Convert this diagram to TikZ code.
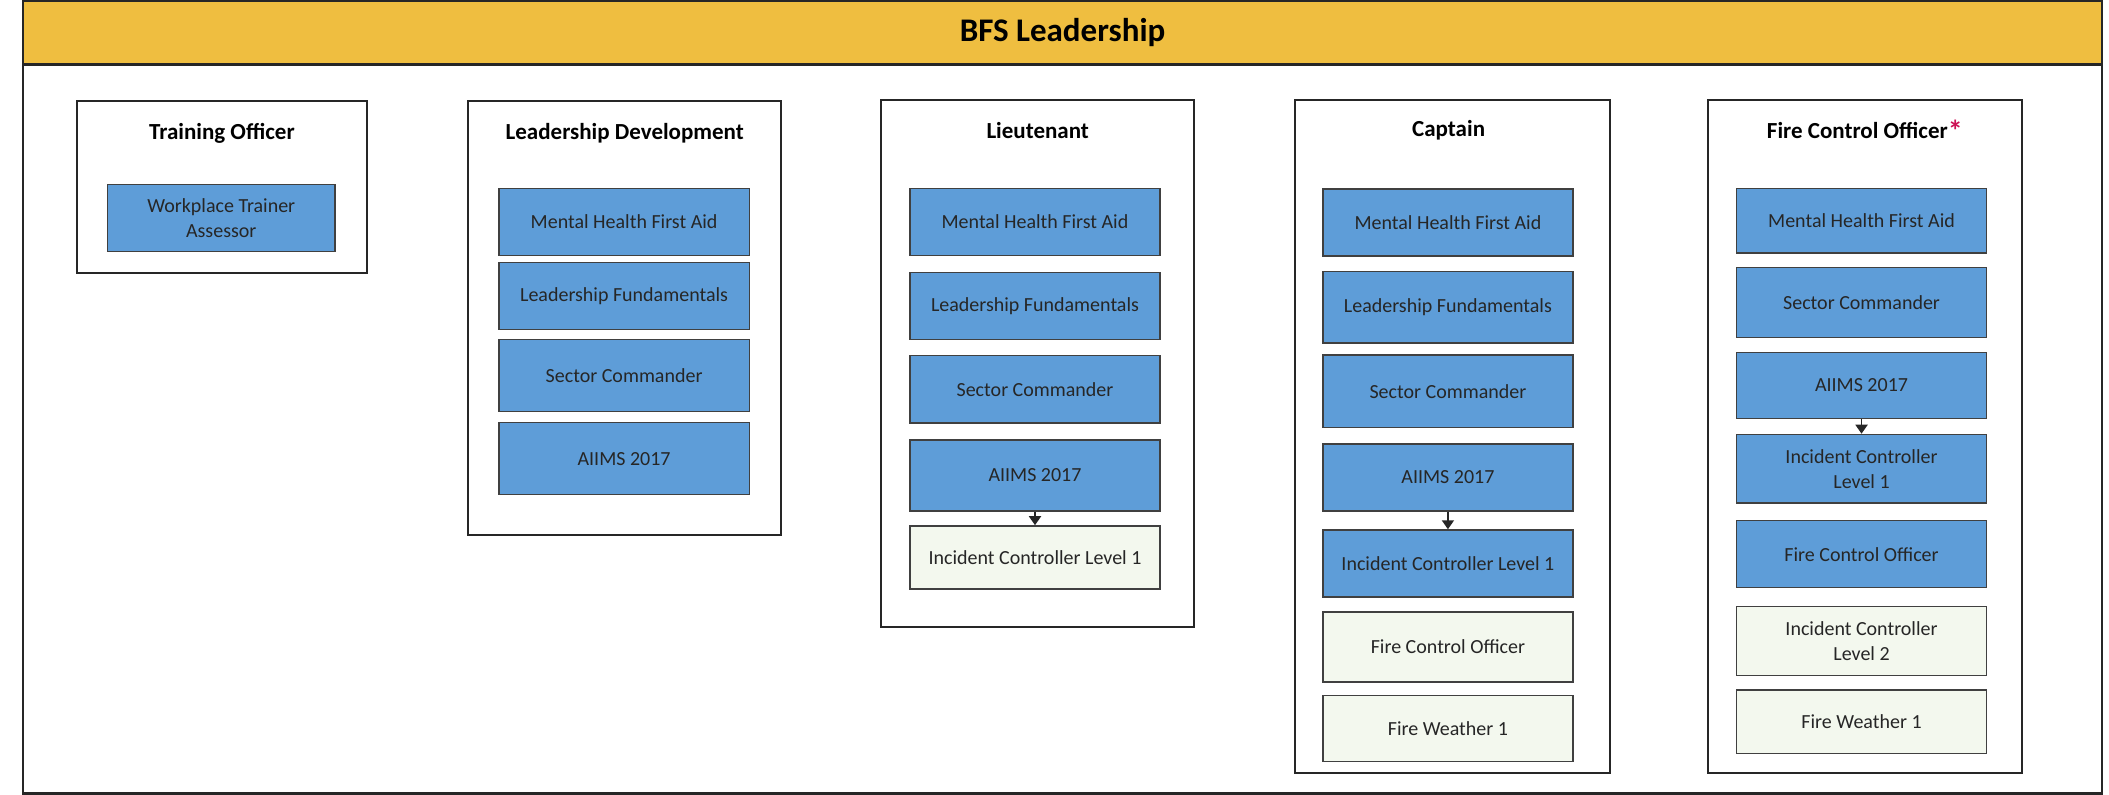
\documentclass[tikz,border=0pt]{standalone}
\usepackage{fontspec}
\setmainfont{Carlito}
\usepackage{tikz}
\usetikzlibrary{arrows.meta}
\usepackage{xcolor}
\definecolor{ColA}{RGB}{239,190,64}
\definecolor{ColB}{RGB}{94,157,216}
\definecolor{ColC}{RGB}{243,248,238}
\definecolor{ColD}{RGB}{204,16,84}
\tikzstyle{Banner}=[draw=black!85,fill=ColA,line width=1.1pt,inner sep=0pt,minimum width=1039.7pt,
minimum height=31.6pt,font=\bfseries\fontsize{16.5}{19}\selectfont]
\tikzstyle{GroupBox}=[draw=black!85,line width=1pt,inner sep=0pt,minimum width=156.7pt]
\tikzstyle{GroupTitle}=[inner sep=0pt,font=\bfseries\fontsize{11.5}{13}\selectfont]
\tikzstyle{Course}=[draw=black!75,line width=.7pt,fill=ColB,minimum width=125.1pt,minimum height=33.6pt,
inner sep=1pt,align=center,text=black!85,font=\fontsize{10}{12.5}\selectfont]
\tikzstyle{CourseNext}=[Course,fill=ColC]
\tikzstyle{EdgeCourse}=[-{Triangle[width=6pt,length=4.5pt]},line width=.9pt,black!85]

\begin{document}
\begin{tikzpicture}[x=0.6725pt,y=-0.6725pt]
        \useasboundingbox(0,0)rectangle(1568,591);
        \draw[line width=1.1pt,black!85](17,1)rectangle(1563,590);
        \node[Banner](bfs)at(790,24.5){BFS Leadership};
        \node[GroupBox,minimum width=145.3pt,minimum height=86.1pt](to)at(165,139){};
        \node[GroupTitle](toT)at(165,99){Training Officer};
        \node[Course,minimum width=113.7pt](toA)at(164.5,162){Workplace Trainer\\Assessor};
        \node[GroupBox,minimum height=217.2pt](ld)at(464.5,236.5){};
        \node[GroupTitle](ldT)at(464.5,99){Leadership Development};
        \node[Course](ldA)at(464,165){Mental Health First Aid};
        \node[Course](ldB)at(464,220){Leadership Fundamentals};
        \node[Course,minimum height=36pt](ldC)at(464,279){Sector Commander};
        \node[Course,minimum height=36pt](ldD)at(464,341){AIIMS 2017};
        \node[GroupBox,minimum height=263.6pt](lt)at(771.5,270){};
        \node[GroupTitle](ltT)at(771.5,97){Lieutenant};
        \node[Course](ltA)at(769.5,165){Mental Health First Aid};
        \node[Course](ltB)at(769.5,227.5){Leadership Fundamentals};
        \node[Course](ltC)at(769.5,289.5){Sector Commander};
        \node[Course,minimum height=35.6pt](ltD)at(769.5,353.5){AIIMS 2017};
        \node[CourseNext,minimum height=31.6pt](ltE)at(769.5,414.5){Incident Controller Level 1};
        \draw[EdgeCourse](ltD)--(ltE);
        \node[GroupBox,minimum width=157.4pt,minimum height=336.9pt](cp)at(1080,324.5){};
        \node[GroupTitle](cpT)at(1077,97){Captain};
        \node[Course](cpA)at(1076.5,165.5){Mental Health First Aid};
        \node[Course,minimum height=35.6pt](cpB)at(1076.5,228.5){Leadership Fundamentals};
        \node[Course,minimum height=36.3pt](cpC)at(1076.5,291){Sector Commander};
        \node[Course](cpD)at(1076.5,355){AIIMS 2017};
        \node[Course](cpE)at(1076.5,419){Incident Controller Level 1};
        \node[CourseNext,minimum height=35pt](cpF)at(1076.5,481){Fire Control Officer};
        \node[CourseNext,minimum height=33pt](cpG)at(1076.5,541.5){Fire Weather 1};
        \draw[EdgeCourse](cpD)--(cpE);
        \node[GroupBox,minimum height=336.9pt](fc)at(1386.5,324.5){};
        \node[GroupTitle](fcT)at(1386.5,97){Fire Control Officer\textcolor{ColD}{\raisebox{-.2ex}{\fontsize{15}{15}\selectfont*}}};
        \node[Course,minimum height=32.3pt](fcA)at(1384,164){Mental Health First Aid};
        \node[Course,minimum height=35pt](fcB)at(1384,225){Sector Commander};
        \node[Course,minimum height=33pt](fcC)at(1384,286.5){AIIMS 2017};
        \node[Course,minimum height=34.3pt](fcD)at(1384,348.5){Incident Controller\\Level 1};
        \node[Course](fcE)at(1384,412){Fire Control Officer};
        \node[CourseNext,minimum height=34.3pt](fcF)at(1384,476.5){Incident Controller\\Level 2};
        \node[CourseNext,minimum height=31.6pt](fcG)at(1384,536.5){Fire Weather 1};
        \draw[EdgeCourse](fcC)--(fcD);
    \end{tikzpicture}
\end{document}
